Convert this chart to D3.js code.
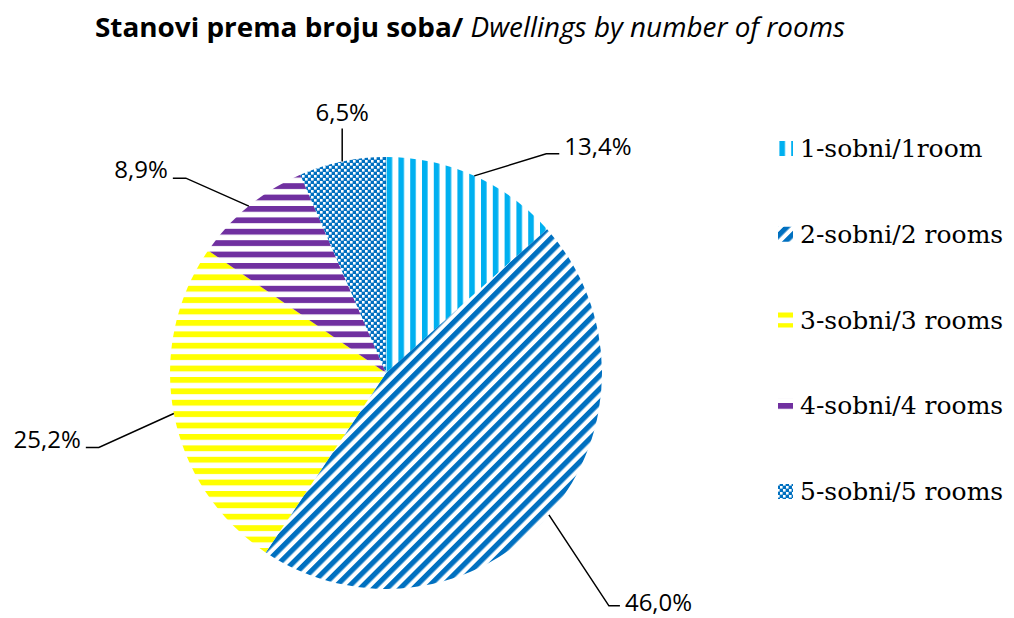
<!DOCTYPE html>
<html lang="en">
  <head>
    <meta charset="UTF-8" />
    <title>Stanovi prema broju soba</title>
    <style>
      body {
        margin: 0;
        background: #fff;
      }
      .title {
        font-family: "Open Sans", sans-serif;
        font-size: 27px;
      }
      .lbl {
        font-family: "Open Sans", sans-serif;
        font-size: 24px;
        fill: #000;
      }
      .legend text {
        font-family: "DejaVu Serif", serif;
        font-size: 25px;
        fill: #000;
      }
    </style>
  </head>

  <body>
    <div class="container"></div>

    <script src="https://d3js.org/d3.v7.min.js"></script>
    <script>
      // data
      const categories = [
        "1-sobni/1room",
        "2-sobni/2 rooms",
        "3-sobni/3 rooms",
        "4-sobni/4 rooms",
        "5-sobni/5 rooms",
      ];
      const shares = [13.4, 46.0, 25.2, 8.9, 6.5];
      const shareLabels = ["13,4%", "46,0%", "25,2%", "8,9%", "6,5%"];

      const width = 1014,
        height = 618;
      const cx = 386,
        cy = 373,
        r = 216;

      const svg = d3
        .select(".container")
        .append("svg")
        .attr("width", width)
        .attr("height", height);

      // patterns
      const defs = svg.append("defs");

      // 1 - vertical light blue stripes
      const p1 = defs
        .append("pattern")
        .attr("id", "p1")
        .attr("patternUnits", "userSpaceOnUse")
        .attr("width", 11.8)
        .attr("height", 10)
        .attr("x", 390);
      p1.append("rect").attr("width", 11.8).attr("height", 10).attr("fill", "#fff");
      p1.append("rect").attr("width", 5.6).attr("height", 10).attr("fill", "#00B0F0");

      // 2 - wide upward diagonal dark blue
      const p2 = defs
        .append("pattern")
        .attr("id", "p2")
        .attr("patternUnits", "userSpaceOnUse")
        .attr("width", 10)
        .attr("height", 9.4)
        .attr("patternTransform", "rotate(-45)");
      p2.append("rect").attr("width", 10).attr("height", 9.4).attr("fill", "#fff");
      p2.append("rect").attr("width", 10).attr("height", 5.2).attr("fill", "#0070C0");

      // 3 & 4 - horizontal stripes
      function hStripes(id, color) {
        const p = defs
          .append("pattern")
          .attr("id", id)
          .attr("patternUnits", "userSpaceOnUse")
          .attr("width", 10)
          .attr("height", 11.4)
          .attr("y", 4);
        p.append("rect").attr("width", 10).attr("height", 11.4).attr("fill", "#fff");
        p.append("rect").attr("width", 10).attr("height", 5.8).attr("fill", color);
      }
      hStripes("p3", "#FFFF00");
      hStripes("p4", "#7030A0");

      // 5 - small checkerboard
      const p5 = defs
        .append("pattern")
        .attr("id", "p5")
        .attr("patternUnits", "userSpaceOnUse")
        .attr("width", 6)
        .attr("height", 6);
      p5.append("rect").attr("width", 6).attr("height", 6).attr("fill", "#0070C0");
      p5.append("rect").attr("width", 2.6).attr("height", 2.6).attr("fill", "#fff");
      p5.append("rect").attr("x", 3).attr("y", 3).attr("width", 2.6).attr("height", 2.6).attr("fill", "#fff");

      const fills = ["url(#p1)", "url(#p2)", "url(#p3)", "url(#p4)", "url(#p5)"];

      // title
      const title = svg
        .append("text")
        .attr("class", "title")
        .attr("x", 95)
        .attr("y", 37)
        .attr("textLength", 750)
        .attr("lengthAdjust", "spacingAndGlyphs");
      title.append("tspan").attr("font-weight", "bold").text("Stanovi prema broju soba/");
      title.append("tspan").attr("font-style", "italic").text(" Dwellings by number of rooms");

      // pie
      const pie = d3.pie().sort(null).value((d) => d);
      const arcs = pie(shares);
      const arc = d3.arc().innerRadius(0).outerRadius(r);

      const g = svg.append("g").attr("transform", `translate(${cx},${cy})`);
      g.selectAll("path.slice")
        .data(arcs)
        .join("path")
        .attr("class", "slice")
        .attr("d", arc)
        .attr("fill", (d, i) => fills[i]);

      // leader lines: elbow offset from arc point, horizontal tail, text side
      const leaders = [
        { dx: 72, dy: -22, tail: 13, anchor: "start", ty: 1 },
        { dx: 60, dy: 91, tail: 11, anchor: "start", ty: 5 },
        { dx: -75, dy: 34, tail: -13, anchor: "end", ty: 1 },
        { dx: -63, dy: -28, tail: -13, anchor: "end", ty: 0 },
        { dx: 0, dy: -33, tail: 0, anchor: "middle", ty: -8 },
      ];

      arcs.forEach((d, i) => {
        const a = (d.startAngle + d.endAngle) / 2;
        const x0 = Math.sin(a) * r,
          y0 = -Math.cos(a) * r;
        const L = leaders[i];
        const x1 = x0 + L.dx,
          y1 = y0 + L.dy;
        const x2 = x1 + L.tail;
        g.append("path")
          .attr("d", d3.line()([[x0, y0], [x1, y1], [x2, y1]]))
          .attr("fill", "none")
          .attr("stroke", "#000")
          .attr("stroke-width", 1.5);
        const tx = x2 + (L.anchor === "start" ? 5 : L.anchor === "end" ? -5 : 0);
        g.append("text")
          .attr("class", "lbl")
          .attr("x", tx)
          .attr("y", y1 + L.ty)
          .attr("text-anchor", L.anchor)
          .text(shareLabels[i]);
      });

      // legend
      const legend = svg.append("g").attr("class", "legend");
      const ly = d3.scalePoint().domain(categories).range([148, 491]);
      const items = legend
        .selectAll("g")
        .data(categories)
        .join("g");
      items
        .append("rect")
        .attr("x", 778)
        .attr("y", (d) => ly(d) - 7)
        .attr("width", 15)
        .attr("height", 15)
        .attr("fill", (d, i) => fills[i]);
      items
        .append("text")
        .attr("x", 800)
        .attr("y", (d) => ly(d) + 9)
        .text((d) => d);
    </script>
  </body>
</html>
